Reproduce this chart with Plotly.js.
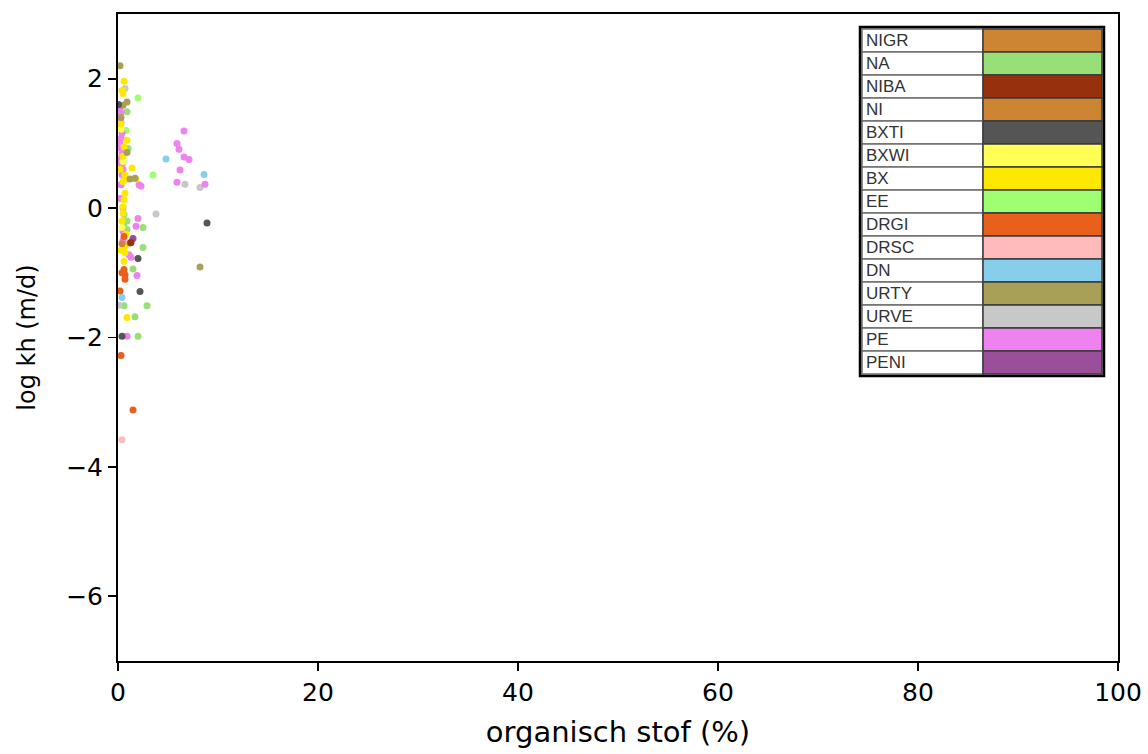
<!DOCTYPE html>
<html>
<head>
<meta charset="utf-8">
<script src="https://cdn.plot.ly/plotly-3.0.1.min.js"></script>
<style>html,body{margin:0;padding:0;background:#fff;}#chart{width:1148px;height:754px;}</style>
</head>
<body>
<div id="chart"></div>
<script>
// Legend table entries (soil codes) and their colours
const codes = ["NIGR","NA","NIBA","NI","BXTI","BXWI","BX","EE","DRGI","DRSC","DN","URTY","URVE","PE","PENI"];
const colors = ["#CD8534","#98DF78","#96300D","#CD8534","#555555","#FFFF55","#FFE800","#A0FF70","#E8601C","#FFBBBB","#87CEEB","#A9A057","#C8C8C8","#EE82EE","#9B4F9B"];

// Data: organisch stof (%) and log kh (m/d), per code
const NA_x = [0.9,1.0,2.5,2.5,1.5,2.9,1.7,0.6,2.0,0.9,0.9,0.6,0.6,0.5];
const NA_y = [1.49,0.92,-0.30,-0.61,-0.94,-1.51,-1.68,-1.51,-1.98,-0.20,-0.33,-0.10,-0.28,0.70];
const EE_x = [2.0,3.5,0.8];
const EE_y = [1.70,0.51,1.20];
const PE_x = [6.6,5.9,6.1,6.6,7.1,6.2,5.9,8.7,2.3,2.1,2.0,1.8,1.3,1.9,0.9,0.5,0.5,1.1,
              0.2,0.3,0.2,0.3,0.2,0.4,0.3,0.2,0.3,0.4,0.2,0.3,0.5,0.4,0.6,0.3,0.5,0.2];
const PE_y = [1.19,1.00,0.91,0.79,0.75,0.59,0.40,0.37,0.34,0.36,-0.16,-0.28,-0.76,-1.04,-1.98,0.00,-0.36,-0.72,
              1.55,1.48,1.40,1.32,1.24,1.16,1.08,1.00,0.92,0.84,0.76,0.68,0.60,0.52,0.44,0.36,-0.50,0.15];
const BXWI_x = [0.3,0.5,0.4];
const BXWI_y = [1.22,0.72,-0.30];
const BX_x = [0.6,0.4,0.5,0.9,0.7,1.4,0.9,0.5,1.8,0.7,0.6,0.5,0.5,0.7,0.7,0.6,0.9,0.5,0.3,0.8,0.2,0.4,0.3,0.6];
const BX_y = [1.96,1.82,1.77,1.05,0.51,0.62,0.45,0.41,0.45,0.23,0.13,-0.08,0.02,-0.59,-0.69,-0.82,-1.69,0.80,1.30,-0.40,0.60,-0.20,-0.65,0.95];
const URTY_x = [0.2,0.9,0.5,0.9,1.7,1.2,8.2,0.3];
const URTY_y = [2.20,1.64,1.59,0.86,0.46,0.45,-0.91,1.40];
const URVE_x = [0.7,6.7,8.2,3.8,0.1];
const URVE_y = [1.85,0.37,0.32,-0.09,-1.50];
const DN_x = [4.8,8.6,0.4];
const DN_y = [0.76,0.52,-1.38];
const BXTI_x = [8.9,2.0,2.2,0.4,0.05];
const BXTI_y = [-0.23,-0.78,-1.29,-1.98,1.60];
const DRGI_x = [1.2,0.6,0.6,0.7,0.7,0.2,0.3,1.5,0.4];
const DRGI_y = [-0.54,-0.44,-0.95,-1.03,-1.10,-1.28,-2.28,-3.12,-1.00];
const DRSC_x = [0.4];
const DRSC_y = [-3.58];
const PENI_x = [1.5];
const PENI_y = [-0.47];
const NIBA_x = [1.3];
const NIBA_y = [-0.53];
const NI_x = [0.4];
const NI_y = [-0.55];

const xTicks = [0,20,40,60,80,100];
const yTicks = [-6,-4,-2,0,2];

const series = [
  ["NA",NA_x,NA_y],["EE",EE_x,EE_y],["URVE",URVE_x,URVE_y],["DN",DN_x,DN_y],
  ["PE",PE_x,PE_y],["BXWI",BXWI_x,BXWI_y],["BX",BX_x,BX_y],["URTY",URTY_x,URTY_y],
  ["BXTI",BXTI_x,BXTI_y],["DRGI",DRGI_x,DRGI_y],["DRSC",DRSC_x,DRSC_y],
  ["PENI",PENI_x,PENI_y],["NIBA",NIBA_x,NIBA_y],["NI",NI_x,NI_y]
];

const traces = series.map(s => ({
  type: "scatter", mode: "markers", name: s[0], x: s[1], y: s[2],
  marker: {size: 7, color: colors[codes.indexOf(s[0])], line: {width: 0}},
  showlegend: false, hoverinfo: "x+y+name"
}));

// Legend table built from codes/colors
const tL = 0.744, tM = 0.865, tR = 0.984, tTop = 0.977, tBot = 0.4436;
const rowH = (tTop - tBot) / codes.length;
const shapes = [];
const annotations = [];
codes.forEach((c, i) => {
  const yt = tTop - i * rowH, yb = yt - rowH;
  shapes.push({type:"rect", xref:"paper", yref:"paper", x0:tL, x1:tM, y0:yb, y1:yt,
               fillcolor:"#ffffff", line:{color:"#6e6e6e", width:1.5}});
  shapes.push({type:"rect", xref:"paper", yref:"paper", x0:tM, x1:tR, y0:yb, y1:yt,
               fillcolor:colors[i], line:{color:"#3a3a3a", width:1.5}});
  annotations.push({xref:"paper", yref:"paper", x:tL + 0.002, y:(yt + yb) / 2,
                    xanchor:"left", yanchor:"middle", text:c, showarrow:false,
                    font:{family:"Liberation Sans, Arial, sans-serif", size:17, color:"#333333"}});
});
shapes.push({type:"rect", xref:"paper", yref:"paper", x0:tL-0.002, x1:tR+0.002, y0:tBot-0.003, y1:tTop+0.003,
             fillcolor:"rgba(0,0,0,0)", line:{color:"#000000", width:2.5}});

const layout = {
  width: 1148, height: 754,
  margin: {l:118, r:30, t:14, b:93},
  paper_bgcolor: "#ffffff", plot_bgcolor: "#ffffff",
  font: {family: "DejaVu Sans, sans-serif", size: 25, color: "#000000"},
  xaxis: {
    range: [0, 100], tickvals: xTicks, ticktext: xTicks.map(String),
    showgrid: false, zeroline: false, showline: true, mirror: true,
    linecolor: "#000000", linewidth: 2, ticks: "outside", ticklen: 8, tickwidth: 1.8, tickcolor: "#000000",
    tickfont: {size: 25}, title: {text: "organisch stof (%)", font: {size: 29}, standoff: 16}
  },
  yaxis: {
    range: [-7, 3], tickvals: yTicks, ticktext: yTicks.map(v => v < 0 ? "\u2212" + Math.abs(v) : String(v)),
    showgrid: false, zeroline: false, showline: true, mirror: true,
    linecolor: "#000000", linewidth: 2, ticks: "outside", ticklen: 8, tickwidth: 1.8, tickcolor: "#000000",
    tickfont: {size: 25}, title: {text: "log kh (m/d)", font: {size: 24}, standoff: 24}
  },
  shapes: shapes,
  annotations: annotations
};

Plotly.newPlot("chart", traces, layout, {displayModeBar: false, staticPlot: true});
</script>
</body>
</html>
